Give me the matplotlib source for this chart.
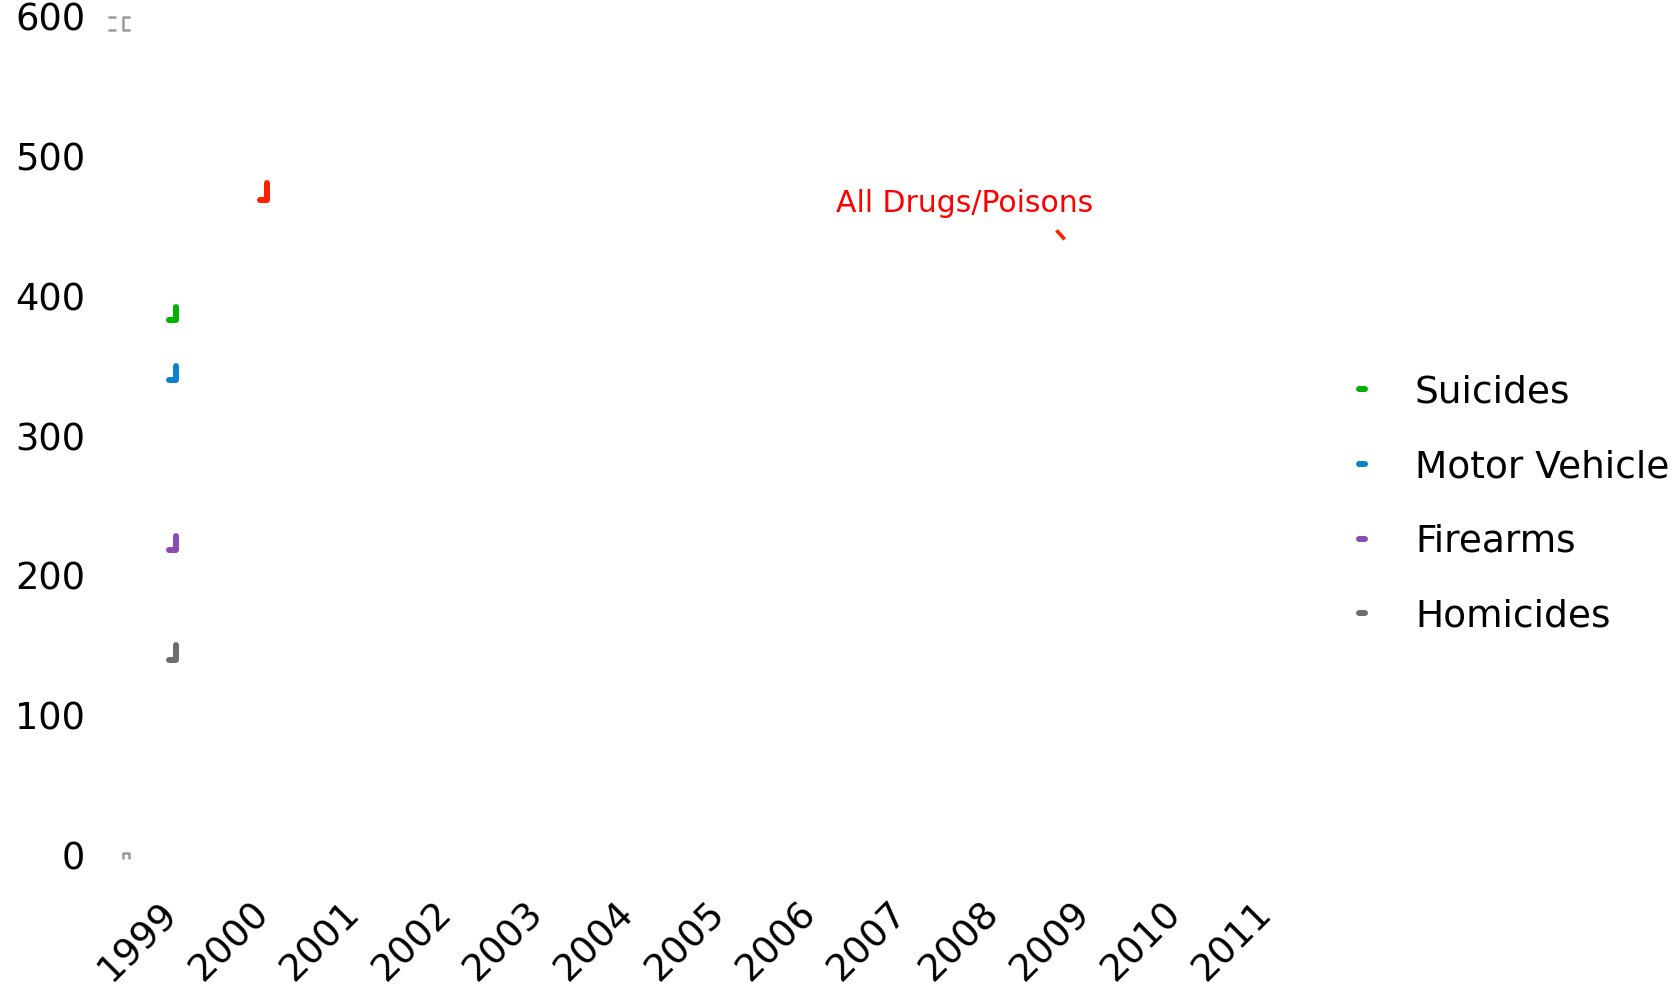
import numpy as np
import matplotlib
matplotlib.use('Agg')
import matplotlib.pyplot as plt
import matplotlib.transforms as mtransforms
from matplotlib.lines import Line2D

# years on the x axis
YEARS = list(range(1999, 2012))
Y_TICKS = [0, 100, 200, 300, 400, 500, 600]

# start of each series (only the first strokes are drawn)
SUICIDES_X = [1999.0, 1999.0, 1998.92]
SUICIDES_Y = [392.1, 382.8, 382.8]
MOTOR_X = [1999.0, 1999.0, 1998.92]
MOTOR_Y = [350.0, 340.0, 340.0]
FIREARMS_X = [1999.0, 1999.0, 1998.92]
FIREARMS_Y = [228.0, 218.0, 218.0]
HOMICIDES_X = [1999.0, 1999.0, 1998.92]
HOMICIDES_Y = [150.4, 139.7, 139.7]
DRUGS_X = [2000.0, 2000.0, 1999.92]
DRUGS_Y = [480.5, 469.0, 469.0]

# small piece of the drugs line near its label
DRUGS_TAIL_X = [2008.655, 2008.745]
DRUGS_TAIL_Y = [447.0, 440.5]

# grey fragments at the top-left and bottom-left
FRAG_A_X = [1998.254, 1998.342]
FRAG_A_Y = [599.6, 599.6]
FRAG_B_X = [1998.254, 1998.342]
FRAG_B_Y = [590.0, 590.0]
FRAG_C_X = [1998.496, 1998.419, 1998.419, 1998.496]
FRAG_C_Y = [599.6, 599.6, 590.0, 590.0]
FRAG_D_X = [1998.42, 1998.42, 1998.49, 1998.49]
FRAG_D_Y = [-2.9, 1.2, 1.2, -2.9]

LABELS = ['Suicides', 'Motor Vehicle', 'Firearms', 'Homicides']
COLORS = ['#00b300', '#0a82cc', '#8a4cb4', '#6e6e6e']
RED = '#ff2000'


def main():
    fig = plt.figure(figsize=(16.78, 9.86), dpi=100)
    ax = fig.add_axes([0.0596, 0.13286, 0.7151, 0.85041])

    lw = 4.3
    series = [(SUICIDES_X, SUICIDES_Y), (MOTOR_X, MOTOR_Y),
              (FIREARMS_X, FIREARMS_Y), (HOMICIDES_X, HOMICIDES_Y)]
    for (xs, ys), c in zip(series, COLORS):
        ax.plot(xs, ys, color=c, linewidth=lw, solid_capstyle='round',
                solid_joinstyle='round')
    ax.plot(DRUGS_X, DRUGS_Y, color=RED, linewidth=lw, solid_capstyle='round',
            solid_joinstyle='round')
    ax.plot(DRUGS_TAIL_X, DRUGS_TAIL_Y, color=RED, linewidth=2.6,
            solid_capstyle='butt')

    for xs, ys in [(FRAG_A_X, FRAG_A_Y), (FRAG_B_X, FRAG_B_Y),
                   (FRAG_C_X, FRAG_C_Y), (FRAG_D_X, FRAG_D_Y)]:
        ax.plot(xs, ys, color='#9a9a9a', linewidth=1.8, clip_on=False,
                solid_capstyle='butt')

    ax.text(2007.65, 466.5, 'All Drugs/Poisons', color='#ff0000',
            fontsize=21.5, ha='center', va='center')

    ax.set_xlim(1998.1667, 2011.3246)
    ax.set_ylim(0, 600)
    ax.set_xticks(YEARS)
    ax.set_xticklabels([str(y) for y in YEARS], rotation=45, ha='right',
                       fontsize=27)
    ax.set_yticks(Y_TICKS)
    ax.set_yticklabels([str(v) for v in Y_TICKS], fontsize=26.5)
    ax.tick_params(axis='x', length=0, pad=29)
    ax.tick_params(axis='y', length=0, pad=10.5)
    for s in ax.spines.values():
        s.set_visible(False)

    # nudge the rotated year labels so their ends sit on the ticks
    shift = mtransforms.ScaledTranslation(0.09, 0, fig.dpi_scale_trans)
    for lab in ax.get_xticklabels():
        lab.set_transform(lab.get_transform() + shift)

    handles = [Line2D([0], [0], color=c, linewidth=4.3, solid_capstyle='round')
               for c in COLORS]
    ax.legend(handles, LABELS, loc='center left', bbox_to_anchor=(0.8099, 0.4885),
              bbox_transform=fig.transFigure, frameon=False, fontsize=27,
              handlelength=0.16, handletextpad=1.33, labelspacing=1.03,
              borderpad=0, borderaxespad=0)

    fig.savefig('out.png', dpi=100)


if __name__ == '__main__':
    main()
